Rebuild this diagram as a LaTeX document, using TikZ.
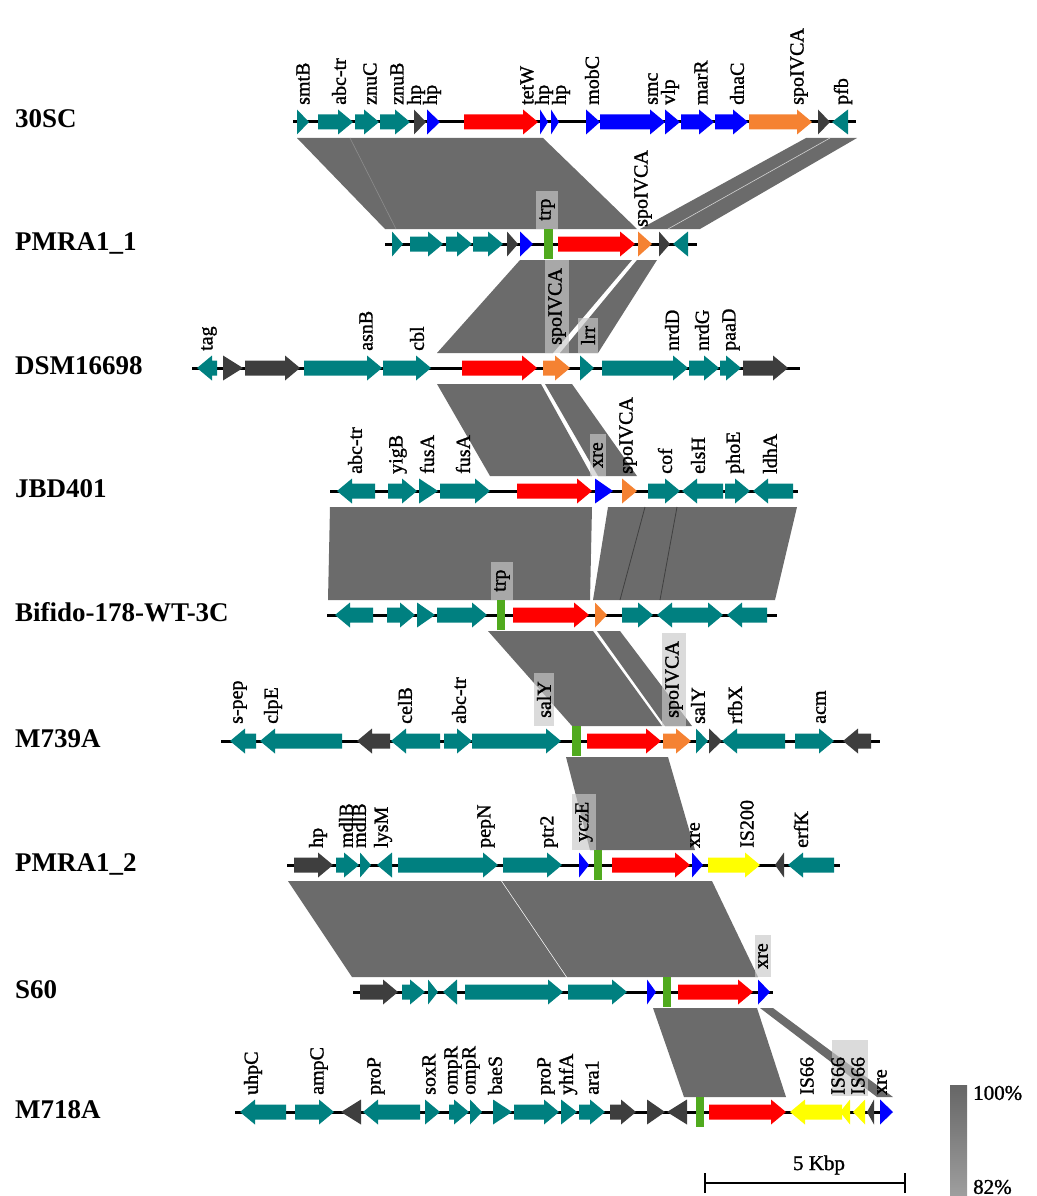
\documentclass[tikz,border=0pt]{standalone}
\usepackage{fontspec}
\setmainfont{Liberation Serif}
\newfontface\genefont{Liberation Serif}[FakeBold=1.3]
\usetikzlibrary{positioning}

\definecolor{gteal}{RGB}{0,128,128}
\definecolor{gdark}{RGB}{62,62,62}
\definecolor{gred}{RGB}{255,0,0}
\definecolor{gblue}{RGB}{0,0,255}
\definecolor{gorange}{RGB}{245,130,50}
\definecolor{gyellow}{RGB}{255,255,0}
\definecolor{ggreen}{RGB}{80,170,30}
\definecolor{bandgray}{RGB}{107,107,107}
\definecolor{boxgray}{RGB}{200,200,200}

\tikzset{
  strain/.style={anchor=base west, font=\bfseries\fontsize{27}{30}\selectfont, inner sep=0pt},
  glab/.style={rotate=90, anchor=west, font=\genefont\fontsize{20}{22}\selectfont, inner sep=1pt},
  glabbox/.style={glab, fill=boxgray, fill opacity=0.66, text opacity=1, inner xsep=8pt, inner ysep=3pt},
  band/.style={fill=bandgray},
  backbone/.style={line width=3pt},
  legtext/.style={font=\genefont\fontsize{21}{24}\selectfont, inner sep=0pt}
}

% genes: {row y}{x start}{x end}{colour}
\newcommand{\gR}[4]{\fill[#4] (#2,#1-7.5) -- (#3-15,#1-7.5) -- (#3-15,#1-12.5) -- (#3,#1) -- (#3-15,#1+12.5) -- (#3-15,#1+7.5) -- (#2,#1+7.5) -- cycle;}
\newcommand{\gL}[4]{\fill[#4] (#3,#1-7.5) -- (#2+15,#1-7.5) -- (#2+15,#1-12.5) -- (#2,#1) -- (#2+15,#1+12.5) -- (#2+15,#1+7.5) -- (#3,#1+7.5) -- cycle;}
\newcommand{\tR}[4]{\fill[#4] (#2,#1-12.5) -- (#3,#1) -- (#2,#1+12.5) -- cycle;}
\newcommand{\tL}[4]{\fill[#4] (#3,#1-12.5) -- (#2,#1) -- (#3,#1+12.5) -- cycle;}
\newcommand{\gbar}[3]{\fill[ggreen] (#2,#1-15) rectangle (#3,#1+15);}
% band: {top y}{x1}{x2}{bottom y}{x3}{x4}
\newcommand{\band}[6]{\fill[band] (#2,#1) -- (#3,#1) -- (#6,#4) -- (#5,#4) -- cycle;}

\begin{document}
\begin{tikzpicture}[x=1pt, y=-1pt]
  \useasboundingbox (0,0) rectangle (1036,1196);

  % similarity bands
  \band{138}{297}{543}{229}{385}{637}
  \band{138}{806}{857}{229}{640}{700}
  \draw[black!45, line width=0.6pt] (350,138) -- (396,229);
  \draw[white!70!bandgray, line width=0.6pt] (830,138) -- (668,229);
  \band{260}{520}{632}{353}{437}{553}
  \band{260}{637}{657}{353}{560}{598}
  \band{384}{437}{541}{476}{490}{592}
  \band{384}{545}{572}{476}{598}{637}
  \band{507}{330}{592}{600}{328}{590}
  \band{507}{608}{797}{600}{593}{775}
  \draw[black!75, line width=0.8pt] (645,507) -- (620,600);
  \draw[black!75, line width=0.8pt] (677,507) -- (660,600);
  \band{631}{488}{593}{726}{572}{662}
  \band{631}{597}{620}{726}{665}{692}
  \band{757}{566}{668}{850}{590}{695}
  \band{881}{288}{501}{977}{352}{566}
  \band{881}{502}{712}{977}{567}{758}
  \band{1008}{653}{757}{1097}{684}{786}
  \band{1008}{760}{773}{1097}{877}{893}

  % strain names
  \node[strain] (sA) at (15,128) {30SC};
  \node[strain] (sB) at (15,250) {PMRA1\_1};
  \node[strain] (sC) at (15,374) {DSM16698};
  \node[strain] (sD) at (15,497) {JBD401};
  \node[strain] (sE) at (15,621) {Bifido-178-WT-3C};
  \node[strain] (sF) at (15,747) {M739A};
  \node[strain] (sG) at (15,871) {PMRA1\_2};
  \node[strain] (sH) at (15,998) {S60};
  \node[strain] (sI) at (15,1118) {M718A};

  % 30SC
  \draw[backbone] (293,122) -- (856,122);
  \tR{122}{297}{309}{gteal}
  \gR{122}{318}{353}{gteal}
  \gR{122}{355}{379}{gteal}
  \gR{122}{380}{410}{gteal}
  \tR{122}{414}{426}{gdark}
  \tR{122}{427}{440}{gblue}
  \gR{122}{464}{538}{gred}
  \tR{122}{540}{548}{gblue}
  \tR{122}{551}{559}{gblue}
  \tR{122}{586}{600}{gblue}
  \gR{122}{600}{665}{gblue}
  \tR{122}{665}{680}{gblue}
  \gR{122}{681}{714}{gblue}
  \gR{122}{715}{748}{gblue}
  \gR{122}{749}{812}{gorange}
  \tR{122}{818}{830}{gdark}
  \tL{122}{832}{848}{gteal}
  \node[glab] (a1) at (303,106) {smtB};
  \node[glab] (a2) at (339,106) {abc-tr};
  \node[glab] (a3) at (370,106) {znuC};
  \node[glab] (a4) at (397,106) {znuB};
  \node[glab] (a5) at (416,106) {hp};
  \node[glab] (a6) at (432,106) {hp};
  \node[glab] (a7) at (527,106) {tetW};
  \node[glab] (a8) at (544,106) {hp};
  \node[glab] (a9) at (561,106) {hp};
  \node[glab] (a10) at (592,106) {mobC};
  \node[glab] (a11) at (653,106) {smc};
  \node[glab] (a12) at (670,106) {vlp};
  \node[glab] (a13) at (701,106) {marR};
  \node[glab] (a14) at (737,106) {dnaC};
  \node[glab] (a15) at (799,106) {spoIVCA};
  \node[glab] (a16) at (843,106) {pfb};

  % PMRA1_1
  \draw[backbone] (385,244) -- (697,244);
  \tR{244}{392}{403}{gteal}
  \gR{244}{410}{443}{gteal}
  \gR{244}{446}{472}{gteal}
  \gR{244}{473}{503}{gteal}
  \tR{244}{507}{518}{gdark}
  \tR{244}{520}{533}{gblue}
  \gbar{244}{544}{553}
  \gR{244}{558}{635}{gred}
  \tR{244}{638}{652}{gorange}
  \tR{244}{659}{670}{gdark}
  \tL{244}{673}{688}{gteal}
  \node[glabbox] (b1) at (547,229) {trp};
  \node[glab] (b2) at (643,228) {spoIVCA};

  % DSM16698
  \draw[backbone] (192,368) -- (800,368);
  \gL{368}{197}{217}{gteal}
  \tR{368}{223}{243}{gdark}
  \gR{368}{245}{300}{gdark}
  \gR{368}{304}{382}{gteal}
  \gR{368}{383}{431}{gteal}
  \gR{368}{462}{537}{gred}
  \gR{368}{543}{570}{gorange}
  \tR{368}{580}{594}{gteal}
  \gR{368}{602}{688}{gteal}
  \gR{368}{689}{719}{gteal}
  \gR{368}{720}{741}{gteal}
  \gR{368}{743}{788}{gdark}
  \node[glab] (c1) at (209,352) {tag};
  \node[glab] (c2) at (366,352) {asnB};
  \node[glab] (c3) at (417,352) {cbl};
  \node[glabbox] (c4) at (557,353) {spoIVCA};
  \node[glabbox] (c5) at (588,353) {lrr};
  \node[glab] (c6) at (672,352) {nrdD};
  \node[glab] (c7) at (702,352) {nrdG};
  \node[glab] (c8) at (731,352) {paaD};

  % JBD401
  \draw[backbone] (330,491) -- (798,491);
  \gL{491}{337}{375}{gteal}
  \gR{491}{388}{417}{gteal}
  \tR{491}{419}{438}{gteal}
  \gR{491}{440}{490}{gteal}
  \gR{491}{517}{592}{gred}
  \tR{491}{595}{613}{gblue}
  \tR{491}{622}{637}{gorange}
  \gR{491}{648}{680}{gteal}
  \gL{491}{682}{723}{gteal}
  \gR{491}{725}{750}{gteal}
  \gL{491}{753}{793}{gteal}
  \node[glab] (d1) at (355,475) {abc-tr};
  \node[glab] (d2) at (398,475) {yigB};
  \node[glab] (d3) at (427,475) {fusA};
  \node[glab] (d4) at (463,475) {fusA};
  \node[glabbox] (d5) at (598,476) {xre};
  \node[glab] (d6) at (628,475) {spoIVCA};
  \node[glab] (d7) at (665,475) {cof};
  \node[glab] (d8) at (698,475) {elsH};
  \node[glab] (d9) at (735,475) {phoE};
  \node[glab] (d10) at (770,475) {ldhA};

  % Bifido-178-WT-3C
  \draw[backbone] (327,615) -- (777,615);
  \gL{615}{335}{373}{gteal}
  \gR{615}{387}{415}{gteal}
  \tR{615}{417}{435}{gteal}
  \gR{615}{437}{487}{gteal}
  \gbar{615}{497}{505}
  \gR{615}{513}{589}{gred}
  \tR{615}{595}{607}{gorange}
  \gR{615}{622}{653}{gteal}
  \gL{615}{657}{700}{gteal}
  \gR{615}{700}{723}{gteal}
  \gL{615}{727}{767}{gteal}
  \node[glabbox] (e1) at (502,600) {trp};

  % M739A
  \draw[backbone] (221,741) -- (880,741);
  \gL{741}{230}{256}{gteal}
  \gL{741}{260}{342}{gteal}
  \gL{741}{357}{390}{gdark}
  \gL{741}{391}{440}{gteal}
  \gR{741}{444}{472}{gteal}
  \gR{741}{472}{561}{gteal}
  \gbar{741}{572}{581}
  \gR{741}{587}{661}{gred}
  \gR{741}{663}{691}{gorange}
  \tR{741}{696}{708}{gteal}
  \tR{741}{709}{722}{gdark}
  \gL{741}{722}{785}{gteal}
  \gR{741}{795}{834}{gteal}
  \gL{741}{843}{871}{gdark}
  \node[glab] (f1) at (240,725) {s-pep};
  \node[glab] (f2) at (273,725) {clpE};
  \node[glab] (f3) at (405,725) {celB};
  \node[glab] (f4) at (459,725) {abc-tr};
  \node[glabbox] (f5) at (544,726) {salY};
  \node[glabbox] (f6) at (674,726) {spoIVCA};
  \node[glab] (f7) at (698,725) {salY};
  \node[glab] (f8) at (735,725) {rfbX};
  \node[glab] (f9) at (821,725) {acm};

  % PMRA1_2
  \draw[backbone] (287,865) -- (840,865);
  \gR{865}{294}{333}{gdark}
  \gR{865}{336}{359}{gteal}
  \tR{865}{360}{371}{gteal}
  \tL{865}{377}{392}{gteal}
  \gR{865}{398}{498}{gteal}
  \gR{865}{503}{562}{gteal}
  \tR{865}{579}{589}{gblue}
  \gbar{865}{594}{602}
  \gR{865}{612}{690}{gred}
  \tR{865}{692}{703}{gblue}
  \gR{865}{708}{760}{gyellow}
  \tL{865}{775}{784}{gdark}
  \gL{865}{788}{834}{gteal}
  \node[glab] (g1) at (318,849) {hp};
  \node[glab] (g2) at (346,849) {mdlB};
  \node[glab] (g3) at (359,849) {mdlB};
  \node[glab] (g4) at (383,849) {lysM};
  \node[glab] (g5) at (486,849) {pepN};
  \node[glab] (g6) at (549,849) {ptr2};
  \node[glabbox] (g7) at (584,850) {yczE};
  \node[glab] (g8) at (695,849) {xre};
  \node[glab] (g9) at (747,849) {IS200};
  \node[glab] (g10) at (801,849) {erfK};

  % S60
  \draw[backbone] (353,992) -- (773,992);
  \gR{992}{360}{398}{gdark}
  \gR{992}{402}{425}{gteal}
  \tR{992}{428}{438}{gteal}
  \tL{992}{443}{457}{gteal}
  \gR{992}{465}{563}{gteal}
  \gR{992}{568}{627}{gteal}
  \tR{992}{647}{656}{gblue}
  \gbar{992}{663}{671}
  \gR{992}{678}{753}{gred}
  \tR{992}{758}{770}{gblue}
  \node[glabbox] (h1) at (763,977) {xre};

  % M718A
  \draw[backbone] (235,1112) -- (891,1112);
  \gL{1112}{240}{286}{gteal}
  \gR{1112}{295}{334}{gteal}
  \tL{1112}{341}{361}{gdark}
  \gL{1112}{363}{420}{gteal}
  \tR{1112}{425}{440}{gteal}
  \gR{1112}{449}{469}{gteal}
  \tR{1112}{470}{482}{gteal}
  \tR{1112}{493}{512}{gteal}
  \gR{1112}{514}{559}{gteal}
  \tR{1112}{561}{577}{gteal}
  \gR{1112}{579}{605}{gteal}
  \gR{1112}{610}{636}{gdark}
  \tR{1112}{647}{665}{gdark}
  \tL{1112}{667}{687}{gdark}
  \gbar{1112}{696}{704}
  \gR{1112}{709}{786}{gred}
  \gL{1112}{790}{842}{gyellow}
  \tL{1112}{840}{850}{gyellow}
  \tL{1112}{853}{865}{gyellow}
  \tL{1112}{867}{874}{gdark}
  \tR{1112}{880}{893}{gblue}
  \fill[boxgray, fill opacity=0.66] (832,1040) rectangle (868,1096);
  \node[glab] (i1) at (253,1096) {uhpC};
  \node[glab] (i2) at (319,1096) {ampC};
  \node[glab] (i3) at (376,1096) {proP};
  \node[glab] (i4) at (429,1096) {soxR};
  \node[glab] (i5) at (453,1096) {ompR};
  \node[glab] (i6) at (471,1096) {ompR};
  \node[glab] (i7) at (495,1096) {baeS};
  \node[glab] (i8) at (546,1096) {proP};
  \node[glab] (i9) at (568,1096) {yhfA};
  \node[glab] (i10) at (592,1096) {ara1};
  \node[glab] (i11) at (807,1096) {IS66};
  \node[glab] (i12) at (838,1096) {IS66};
  \node[glab] (i13) at (858,1096) {IS66};
  \node[glab] (i14) at (882,1096) {xre};

  % scale bar
  \coordinate (sbL) at (705,1183);
  \coordinate (sbR) at (905,1183);
  \draw[line width=2pt] (sbL) -- (sbR);
  \draw[line width=2pt] ([yshift=-10pt]sbL) -- ([yshift=10pt]sbL);
  \draw[line width=2pt] ([yshift=-10pt]sbR) -- ([yshift=10pt]sbR);
  \node[legtext] (kbp) at (819,1165) {5 Kbp};

  % identity legend
  \shade[top color=black!60, bottom color=black!38] (950,1085) rectangle (967,1195);
  \node[legtext, anchor=west] (hi) at (973,1093) {100\%};
  \node[legtext, anchor=west] (lo) at (973,1187) {82\%};
\end{tikzpicture}
\end{document}
